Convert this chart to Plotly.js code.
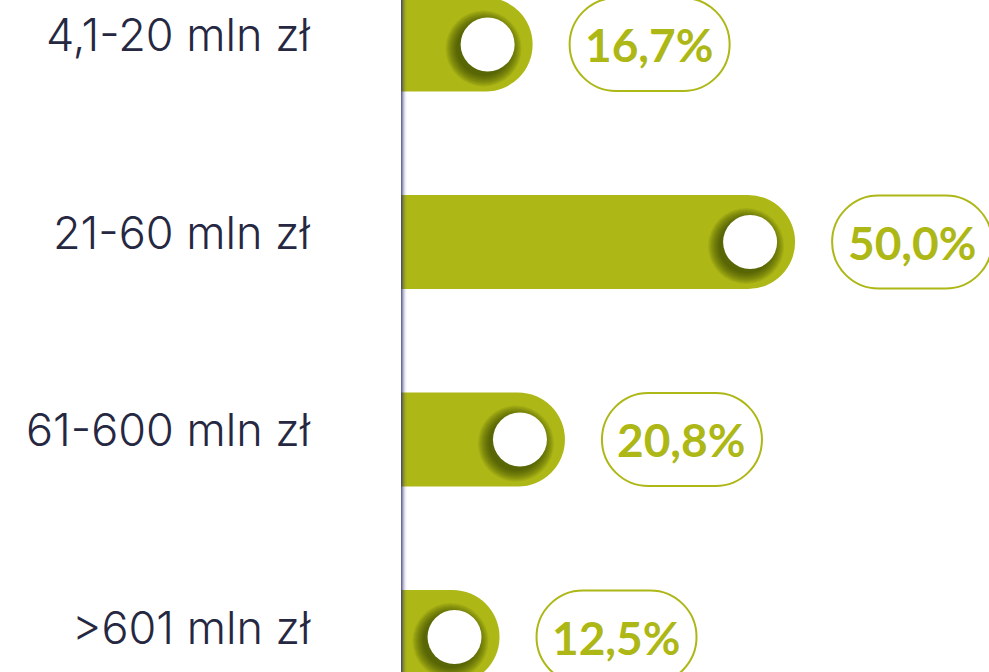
<!DOCTYPE html>
<html>
<head>
<meta charset="utf-8">
<script src="https://cdn.plot.ly/plotly-3.0.1.min.js"></script>
<style>html,body{margin:0;padding:0;background:#fff;}#chart{width:989px;height:672px;}</style>
</head>
<body>
<div id="chart"></div>
<script>
// ---- data ----
const categories = ["4,1-20 mln zł", "21-60 mln zł", "61-600 mln zł", ">601 mln zł"];
const values = [16.7, 50.0, 20.8, 12.5];
const valueLabels = ["16,7%", "50,0%", "20,8%", "12,5%"];

// ---- style ----
const OLIVE = "#adb715";
const TEXT = "#262842";
const W = 989, H = 672;
const ML = 401;
const XMAX = 74.6;

const bars = {
  type: "bar",
  orientation: "h",
  x: values,
  y: categories,
  width: 0.476,
  marker: { color: OLIVE, cornerradius: "50%", line: { width: 0 } },
  hoverinfo: "skip",
  cliponaxis: false
};

const shapes = [];
const annotations = [];

// axis shading strip
const strip = [[0, 1, 0.7], [1, 2, 0.5], [2, 3, 0.32], [3, 4, 0.18], [4, 5, 0.08], [5, 6, 0.03]];
strip.forEach(s => shapes.push({
  type: "rect", xref: "x", yref: "paper", xsizemode: "pixel", xanchor: 0,
  x0: s[0], x1: s[1], y0: 0, y1: 1, layer: "above",
  fillcolor: "rgba(40,40,110," + s[2] + ")", line: { width: 0 }
}));

function pillPath(a, b, h) {
  const r = h, k = 0.5523 * r;
  return `M ${a + r},${h} L ${b - r},${h} C ${b - r + k},${h} ${b},${k} ${b},0 ` +
    `C ${b},${-k} ${b - r + k},${-h} ${b - r},${-h} L ${a + r},${-h} ` +
    `C ${a + r - k},${-h} ${a},${-k} ${a},0 C ${a},${k} ${a + r - k},${h} ${a + r},${h} Z`;
}

categories.forEach((c, i) => {
  const v = values[i];
  const cx = -45, cy = 0, R = 27;
  // soft shadow (many thin layers)
  for (let e = 11; e >= 0; e--) {
    shapes.push({
      type: "circle", xref: "x", yref: "y", xsizemode: "pixel", ysizemode: "pixel",
      xanchor: v, yanchor: c, layer: "above",
      x0: cx - 4 - R - e, x1: cx - 4 + R + e,
      y0: cy - 4 - R - e, y1: cy - 4 + R + e,
      fillcolor: "rgba(45,47,0,0.075)", line: { width: 0 }
    });
  }
  // white circle
  shapes.push({
    type: "circle", xref: "x", yref: "y", xsizemode: "pixel", ysizemode: "pixel",
    xanchor: v, yanchor: c, layer: "above",
    x0: cx - R, x1: cx + R, y0: cy - R, y1: cy + R,
    fillcolor: "#ffffff", line: { width: 0 }
  });
  // value pill
  shapes.push({
    type: "path", xref: "x", yref: "y", xsizemode: "pixel", ysizemode: "pixel",
    xanchor: v, yanchor: c, layer: "above",
    path: pillPath(37, 197, 46.5),
    fillcolor: "rgba(0,0,0,0)", line: { color: OLIVE, width: 2 }
  });
  annotations.push({
    x: v, y: c, xref: "x", yref: "y", xshift: 117, yshift: 0,
    text: "<b>" + valueLabels[i] + "</b>", showarrow: false,
    xanchor: "center", yanchor: "middle",
    font: { family: "Lato, 'Open Sans', sans-serif", size: 46, color: OLIVE }
  });
  // category label
  annotations.push({
    x: 0, y: c, xref: "x", yref: "y", xshift: -88, yshift: 10,
    text: c, showarrow: false, xanchor: "right", yanchor: "middle",
    font: { family: "Inter, 'Open Sans', sans-serif", size: 45, color: TEXT, weight: 300 }
  });
});

const layout = {
  width: W, height: H,
  margin: { l: ML, r: 0, t: 0, b: 0, pad: 0 },
  paper_bgcolor: "#ffffff", plot_bgcolor: "#ffffff",
  showlegend: false,
  xaxis: { range: [0, XMAX], visible: false, fixedrange: true },
  yaxis: { type: "category", range: [3.177, -0.2253], visible: false, fixedrange: true },
  shapes: shapes,
  annotations: annotations
};

Plotly.newPlot("chart", [bars], layout, { displayModeBar: false, staticPlot: true });
</script>
</body>
</html>
